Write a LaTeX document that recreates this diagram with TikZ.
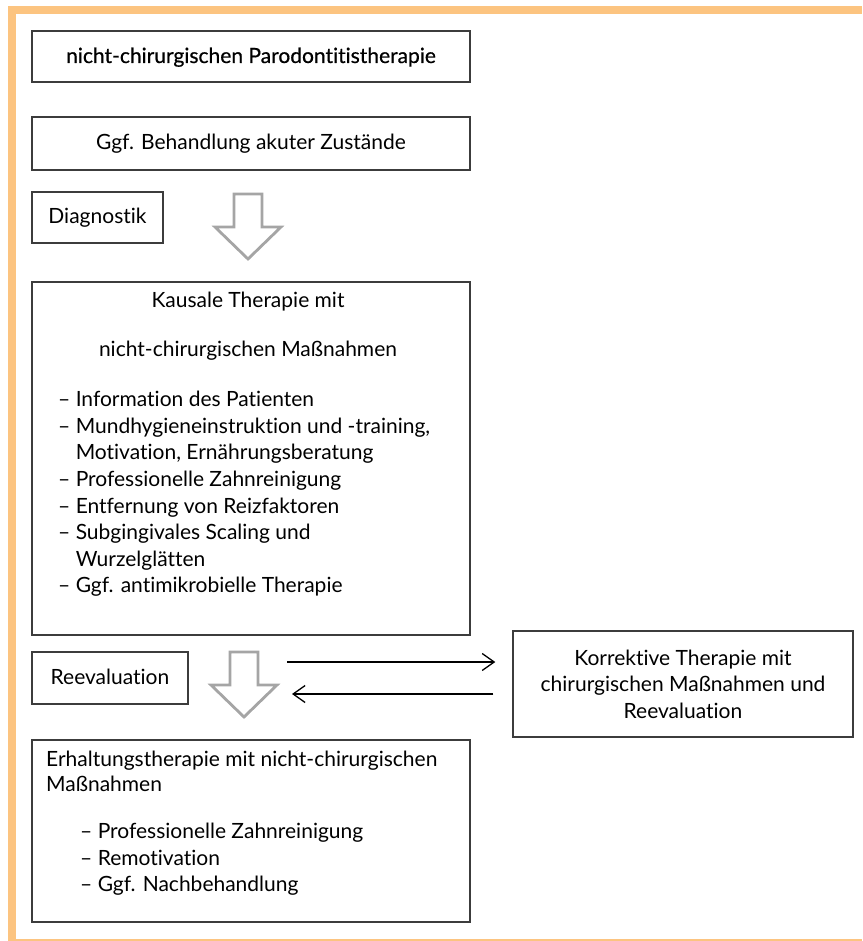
\documentclass[tikz,border=0pt]{standalone}
\usepackage{fontspec}
\setmainfont{Lato}[Ligatures=NoCommon]
\newfontfamily\titlefont{Lato}[FakeBold=0.6, Ligatures=NoCommon]
\usepackage{tikz}
\usetikzlibrary{positioning, calc, arrows.meta}
\definecolor{framecol}{RGB}{252,196,128}
\definecolor{boxcol}{RGB}{60,60,60}
\definecolor{arrowcol}{RGB}{165,165,165}

\begin{document}
\begin{tikzpicture}[x=1pt, y=-1pt,
           box/.style={draw=boxcol, line width=1.4pt, inner sep=0pt,
              minimum width=438pt, text height=15pt, text depth=2pt,
              font=\fontsize{21}{26.6}\selectfont},
           textblock/.style={inner sep=0pt, align=left,
              font=\fontsize{21}{26.6}\selectfont},
           hollowArrow/.style={draw=arrowcol, line width=2.8pt, fill=white, line join=miter},
           connections/.style={-{Straight Barb[length=12pt,width=17pt]}, draw=black, line width=1.3pt},
        ]
        \useasboundingbox (0,0) rectangle (862,941);

        % orange frame
        \fill[framecol] (8,6) rectangle (862,14);
        \fill[framecol] (8,6) rectangle (16,941);
        \fill[framecol] (8,939) rectangle (862,941);

        \node[box, minimum height=51pt] at (251,56.5) (title) {\titlefont nicht-chirurgischen Parodontitistherapie};
        \node[box, minimum height=53pt] at (251,143.5) (acute) {Ggf. Behandlung akuter Zustände};
        \node[box, minimum width=131pt, minimum height=51pt] at (97.5,217.5) (diag) {Diagnostik};

        \node[box, minimum height=353pt] at (251,458.5) (kausal) {};
        \node[textblock, align=center, anchor=north] at (248,292) (kausalhead) {Kausale Therapie mit\\[22.4pt]nicht-chirurgischen Maßnahmen};
        \node[textblock, anchor=north west] at (58,391) (kausallist) {– Information des Patienten\\
            – Mundhygieneinstruktion und -training,\\
            \phantom{– }Motivation, Ernährungsberatung\\
            – Professionelle Zahnreinigung\\
            – Entfernung von Reizfaktoren\\
            – Subgingivales Scaling und\\
            \phantom{– }Wurzelglätten\\
            – Ggf. antimikrobielle Therapie};

        \node[box, minimum width=156pt, minimum height=52pt] at (110,678) (reeval) {Reevaluation};
        \node[box, minimum width=340pt, minimum height=106pt, align=center, text height=, text depth=] at (683,684) (korrektiv) {Korrektive Therapie mit\\chirurgischen Maßnahmen und\\Reevaluation};

        \node[box, minimum height=182pt] at (251,831) (erhalt) {};
        \node[textblock, anchor=north west] at (46,751) (erhalthead) {Erhaltungstherapie mit nicht-chirurgischen\\[-2pt]Maßnahmen};
        \node[textblock, anchor=north west] at (80,823) (erhaltlist) {– Professionelle Zahnreinigung\\
            – Remotivation\\
            – Ggf. Nachbehandlung};

        % hollow down arrows
        \foreach \cx/\ty in {248/194, 244/652}
            \draw[hollowArrow] (\cx-14,\ty) -- (\cx+14,\ty) -- (\cx+14,\ty+33) -- (\cx+33,\ty+33)
                -- (\cx,\ty+65) -- (\cx-33,\ty+33) -- (\cx-14,\ty+33) -- cycle;

        \coordinate (fwd) at (287,662);
        \coordinate (back) at (292,694);
        \draw[connections, shorten >=17pt] (fwd) -- (fwd -| korrektiv.west);
        \draw[connections, shorten <=19pt] (back -| korrektiv.west) -- (back);
     \end{tikzpicture}
\end{document}
